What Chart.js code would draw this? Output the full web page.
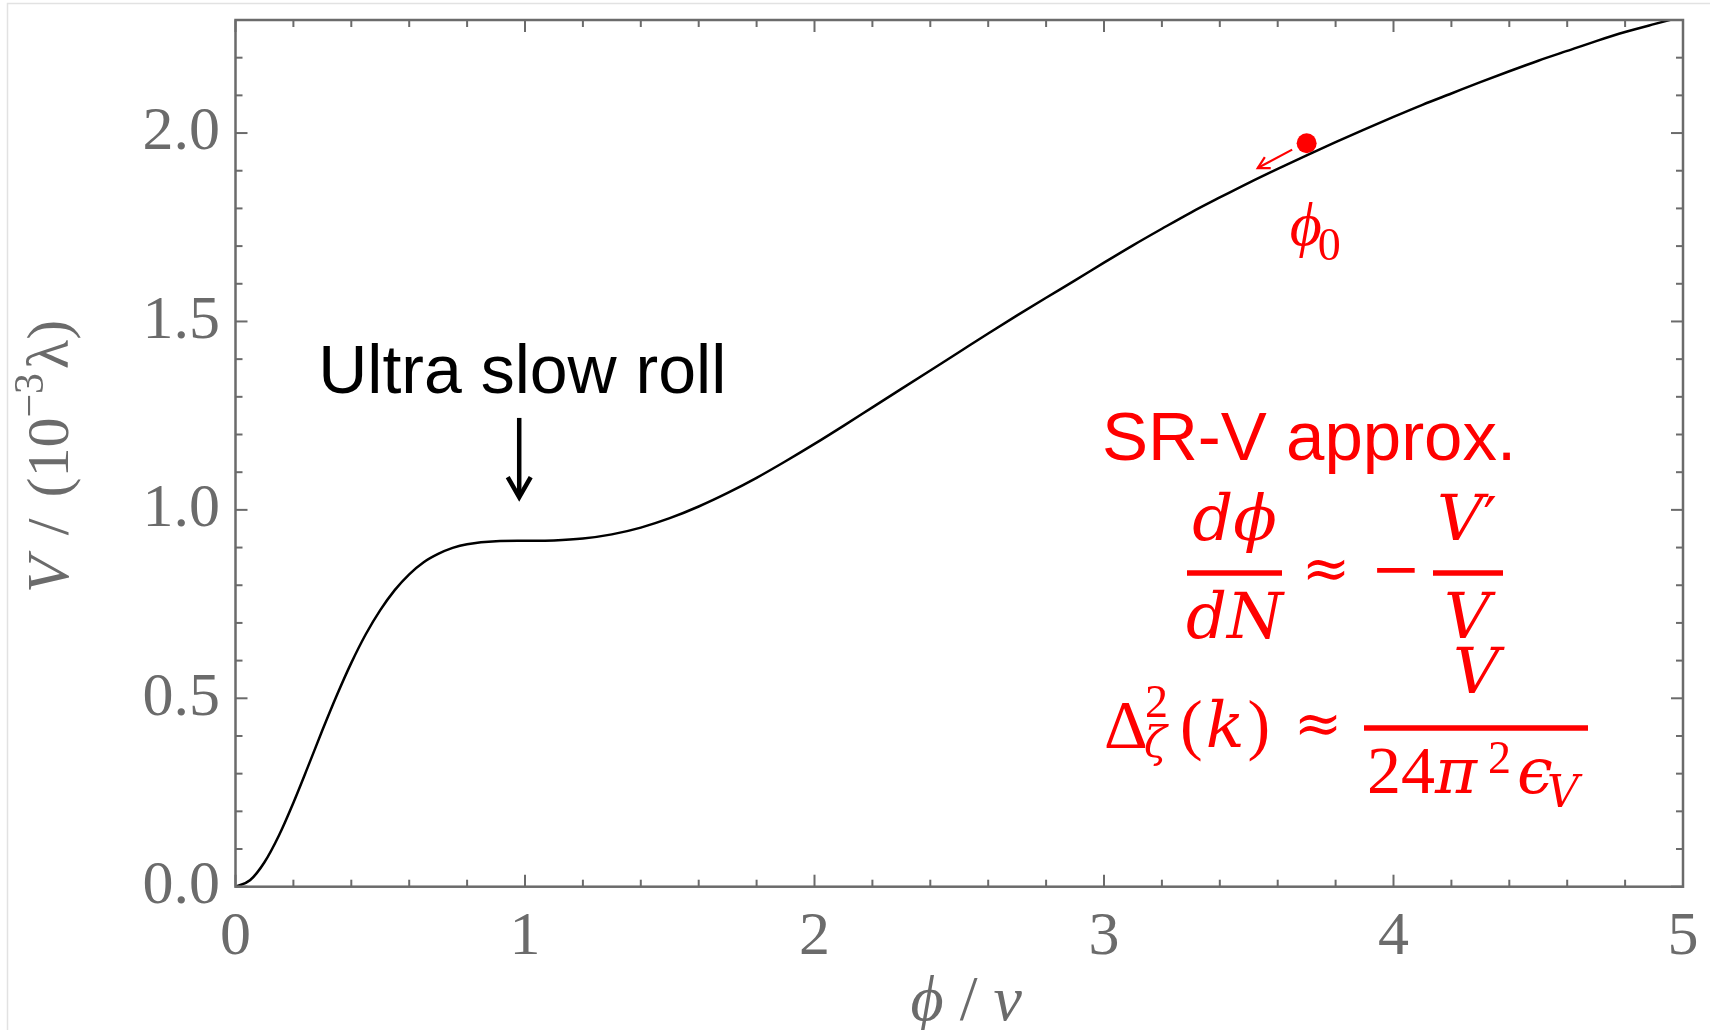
<!DOCTYPE html>
<html>
<head>
<meta charset="utf-8">
<title>Inflaton potential</title>
<script src="https://cdn.jsdelivr.net/npm/chart.js@4.4.1/dist/chart.umd.min.js"></script>
<style>
    html, body { margin: 0; padding: 0; background: #ffffff; }
    #wrap { width: 1710px; height: 1030px; position: relative; overflow: hidden; }
</style>
</head>
<body>
<div id="wrap"><canvas id="potentialChart" width="1710" height="1030"></canvas></div>
<script>
// Potential V(phi) in units of 1e-3 lambda, sampled along phi / v
const phiValues = [
    0.0, 0.05, 0.1, 0.15, 0.2, 0.25, 0.3, 0.35, 0.4, 0.45,
    0.5, 0.55, 0.6, 0.65, 0.7, 0.75, 0.8, 0.9,
    1.0, 1.1, 1.2, 1.3, 1.4, 1.5, 1.6, 1.7, 1.8, 1.9,
    2.0, 2.1, 2.2, 2.3, 2.4, 2.5, 2.6, 2.7, 2.8, 2.9,
    3.0, 3.1, 3.2, 3.3, 3.4, 3.5, 3.6, 3.7, 3.8, 3.9,
    4.0, 4.1, 4.2, 4.3, 4.4, 4.5, 4.6, 4.7, 4.8, 4.9, 5.0
];
const potentialValues = [
    0.000, 0.017, 0.065, 0.136, 0.223, 0.318, 0.415, 0.508, 0.594, 0.670,
    0.734, 0.787, 0.829, 0.861, 0.883, 0.899, 0.909, 0.917,
    0.918, 0.919, 0.924, 0.935, 0.953, 0.978, 1.009, 1.045, 1.085, 1.129,
    1.175, 1.223, 1.272, 1.321, 1.370, 1.419, 1.468, 1.516, 1.563, 1.609,
    1.656, 1.702, 1.746, 1.789, 1.829, 1.868, 1.905, 1.941, 1.976, 2.010,
    2.043, 2.075, 2.105, 2.135, 2.164, 2.192, 2.218, 2.244, 2.268, 2.289, 2.309
];

// starting point phi_0 of the field
const startPhi = [3.70];
const startV = [1.973];

// axis ticks
const xTickValues = [0, 1, 2, 3, 4, 5];
const xTickLabels = ['0', '1', '2', '3', '4', '5'];
const yTickValues = [0, 0.5, 1.0, 1.5, 2.0];
const yTickLabels = ['0.0', '0.5', '1.0', '1.5', '2.0'];

const AXIS_GREY = '#6b6b6b';
const RED = '#ff0000';
const SERIF = '"Liberation Serif", "Times New Roman", serif';
const MATH = '"DejaVu Serif", serif';
const SANS = '"Liberation Sans", Arial, sans-serif';

// arrows given in data units (phi, V)
const plateauArrow = { phi: 0.98, top: 1.244, tip: 1.031 };
const rollArrow = { from: [3.650, 1.956], to: [3.531, 1.907] };

// draw a row of differently styled text pieces
function drawRuns(ctx, runs, x, y, align) {
    let total = 0;
    runs.forEach(r => {
        ctx.font = r.f;
        r.w = ctx.measureText(r.t).width + (r.gap || 0);
        total += r.w;
    });
    let cx = align === 'center' ? x - total / 2 : x;
    ctx.textAlign = 'left';
    runs.forEach(r => {
        ctx.font = r.f;
        ctx.fillText(r.t, cx, y + (r.dy || 0));
        cx += r.w;
    });
}

function bar(ctx, x1, x2, y) {
    ctx.fillRect(x1, y - 2.75, x2 - x1, 5.5);
}

function line(ctx, x1, y1, x2, y2) {
    ctx.beginPath();
    ctx.moveTo(x1, y1);
    ctx.lineTo(x2, y2);
    ctx.stroke();
}

// keep the plot box fixed: no extra room for the end labels
function noLabelPadding(scale) {
    scale.paddingTop = 0;
    scale.paddingBottom = 0;
    scale.paddingLeft = 0;
    scale.paddingRight = 0;
}

const framePlugin = {
    id: 'frame',
    beforeDraw(chart) {
        const ctx = chart.ctx;
        ctx.save();
        ctx.fillStyle = '#ffffff';
        ctx.fillRect(0, 0, chart.width, chart.height);
        ctx.strokeStyle = '#e2e2e2';
        ctx.lineWidth = 1.5;
        ctx.beginPath();
        ctx.moveTo(7.5, chart.height);
        ctx.lineTo(7.5, 3.5);
        ctx.lineTo(chart.width, 3.5);
        ctx.stroke();
        ctx.restore();
    },
    afterDatasetsDraw(chart) {
        const { ctx, chartArea: a, scales: { x, y } } = chart;
        ctx.save();
        ctx.strokeStyle = AXIS_GREY;
        ctx.lineWidth = 2;
        // ticks on all four sides, pointing inwards
        for (let i = 0; i <= 25; i++) {
            const len = i % 5 === 0 ? 12 : 7;
            const px = x.getPixelForValue(i * 0.2);
            line(ctx, px, a.bottom, px, a.bottom - len);
            line(ctx, px, a.top, px, a.top + len);
        }
        for (let i = 0; i <= 23; i++) {
            const len = i % 5 === 0 ? 12 : 7;
            const py = y.getPixelForValue(i * 0.1);
            line(ctx, a.left, py, a.left + len, py);
            line(ctx, a.right, py, a.right - len, py);
        }
        ctx.lineWidth = 2.5;
        ctx.strokeRect(a.left, a.top, a.right - a.left, a.bottom - a.top);
        ctx.restore();
    },
    afterDraw(chart) {
        const { ctx, chartArea: a, scales: { x, y } } = chart;
        ctx.save();
        ctx.textBaseline = 'alphabetic';

        // axis titles
        ctx.fillStyle = AXIS_GREY;
        drawRuns(ctx, [
            { t: 'ϕ', f: 'italic 64px ' + SERIF },
            { t: ' / ', f: '64px ' + SERIF },
            { t: 'v', f: 'italic 64px ' + SERIF }
        ], (a.left + a.right) / 2 + 7, 1020, 'center');

        ctx.save();
        ctx.translate(68, (a.top + a.bottom) / 2 + 3);
        ctx.rotate(-Math.PI / 2);
        drawRuns(ctx, [
            { t: 'V', f: 'italic 60px ' + SERIF, gap: 6 },
            { t: ' / ', f: '60px ' + SERIF, gap: 6 },
            { t: '(10', f: '60px ' + SERIF },
            { t: '−3', f: '42px ' + SERIF, dy: -25, gap: 4 },
            { t: 'λ)', f: '60px ' + SERIF }
        ], 0, 0, 'center');
        ctx.restore();

        // ultra slow roll label and arrow
        const ax = x.getPixelForValue(plateauArrow.phi);
        const aTop = y.getPixelForValue(plateauArrow.top);
        const aTip = y.getPixelForValue(plateauArrow.tip);
        ctx.fillStyle = '#000000';
        ctx.strokeStyle = '#000000';
        ctx.font = '68px ' + SANS;
        ctx.textAlign = 'center';
        ctx.fillText('Ultra slow roll', ax + 3, aTop - 25);
        ctx.lineWidth = 4.5;
        ctx.lineCap = 'butt';
        line(ctx, ax, aTop, ax, aTip - 3);
        ctx.lineJoin = 'miter';
        ctx.beginPath();
        ctx.moveTo(ax - 11.5, aTip - 21);
        ctx.lineTo(ax, aTip - 1);
        ctx.lineTo(ax + 11.5, aTip - 21);
        ctx.stroke();

        // direction of motion at phi_0
        const fx = x.getPixelForValue(rollArrow.from[0]);
        const fy = y.getPixelForValue(rollArrow.from[1]);
        const tx = x.getPixelForValue(rollArrow.to[0]);
        const ty = y.getPixelForValue(rollArrow.to[1]);
        const ang = Math.atan2(ty - fy, tx - fx);
        ctx.strokeStyle = RED;
        ctx.fillStyle = RED;
        ctx.lineWidth = 2.2;
        line(ctx, fx, fy, tx, ty);
        ctx.beginPath();
        ctx.moveTo(tx - 13 * Math.cos(ang - 0.5), ty - 13 * Math.sin(ang - 0.5));
        ctx.lineTo(tx, ty);
        ctx.lineTo(tx - 13 * Math.cos(ang + 0.5), ty - 13 * Math.sin(ang + 0.5));
        ctx.stroke();

        // phi_0 label under the starting point
        const px0 = x.getPixelForValue(startPhi[0]);
        const py0 = y.getPixelForValue(startV[0]);
        drawRuns(ctx, [
            { t: 'ϕ', f: 'italic 62px ' + SERIF, gap: -4 },
            { t: '0', f: '46px ' + SERIF, dy: 15 }
        ], px0 - 17, py0 + 102, 'left');

        // slow-roll approximation formulas
        ctx.font = '69px ' + SANS;
        ctx.textAlign = 'left';
        ctx.fillText('SR-V approx.', 1102, 460);

        const IT = s => 'italic ' + s + 'px ' + MATH;
        const UP = s => s + 'px ' + SERIF;

        drawRuns(ctx, [{ t: 'dϕ', f: IT(64) }], 1234.5, 540, 'center');
        bar(ctx, 1187, 1282, 573);
        drawRuns(ctx, [{ t: 'dN', f: IT(64) }], 1234.5, 638, 'center');

        ctx.textBaseline = 'middle';
        ctx.textAlign = 'center';
        ctx.font = '58px ' + MATH;
        ctx.fillText('≈', 1326, 573);
        ctx.font = '60px ' + MATH;
        ctx.fillText('−', 1396, 573);
        ctx.textBaseline = 'alphabetic';

        drawRuns(ctx, [{ t: 'V', f: IT(64) }, { t: '′', f: '60px ' + MATH }], 1437, 540, 'left');
        bar(ctx, 1433, 1503, 573);
        drawRuns(ctx, [{ t: 'V', f: IT(64) }], 1467, 638, 'center');

        drawRuns(ctx, [{ t: 'Δ', f: UP(68) }], 1104, 747, 'left');
        drawRuns(ctx, [{ t: '2', f: UP(46) }], 1145, 717, 'left');
        drawRuns(ctx, [{ t: 'ζ', f: IT(42) }], 1144, 757, 'left');
        drawRuns(ctx, [
            { t: '(', f: UP(68), gap: 3 },
            { t: 'k', f: IT(64), gap: 3 },
            { t: ')', f: UP(68) }
        ], 1180, 747, 'left');

        ctx.textBaseline = 'middle';
        ctx.textAlign = 'center';
        ctx.font = '58px ' + MATH;
        ctx.fillText('≈', 1318, 728);
        ctx.textBaseline = 'alphabetic';

        drawRuns(ctx, [{ t: 'V', f: IT(64) }], 1476, 693, 'center');
        bar(ctx, 1364, 1588, 728);
        drawRuns(ctx, [{ t: '24', f: UP(68) }, { t: 'π', f: IT(64) }], 1367, 793, 'left');
        drawRuns(ctx, [{ t: '2', f: UP(46) }], 1488, 773, 'left');
        drawRuns(ctx, [{ t: 'ϵ', f: IT(64) }], 1517, 793, 'left');
        drawRuns(ctx, [{ t: 'V', f: IT(44) }], 1547, 807, 'left');

        ctx.restore();
    }
};

function initChart() {
    const canvas = document.getElementById('potentialChart');
    if (!canvas) {
        return;
    }
    const ctx = canvas.getContext('2d');

    const curve = phiValues.map((p, i) => ({ x: p, y: potentialValues[i] }));
    const start = startPhi.map((p, i) => ({ x: p, y: startV[i] }));

    new Chart(ctx, {
        type: 'scatter',
        data: {
            datasets: [{
                label: 'V',
                data: curve,
                showLine: true,
                borderColor: '#000000',
                borderWidth: 2.5,
                pointRadius: 0,
                fill: false,
                cubicInterpolationMode: 'monotone'
            }, {
                label: 'phi0',
                data: start,
                showLine: false,
                pointRadius: 10,
                pointBackgroundColor: RED,
                pointBorderWidth: 0
            }]
        },
        options: {
            responsive: false,
            devicePixelRatio: 1,
            animation: false,
            layout: { padding: { left: 0, right: 27, top: 20, bottom: 0 } },
            plugins: {
                legend: { display: false },
                tooltip: { enabled: false }
            },
            scales: {
                x: {
                    type: 'linear',
                    min: 0,
                    max: 5,
                    grid: { display: false, drawTicks: false },
                    border: { display: false },
                    afterFit: scale => {
                        scale.height = 143.3;
                        noLabelPadding(scale);
                    },
                    afterBuildTicks: scale => {
                        scale.ticks = xTickValues.map(v => ({ value: v }));
                    },
                    ticks: {
                        autoSkip: false,
                        maxRotation: 0,
                        padding: 20,
                        color: AXIS_GREY,
                        font: { family: SERIF, size: 62, lineHeight: 1 },
                        callback: (value, index) => xTickLabels[index]
                    }
                },
                y: {
                    type: 'linear',
                    min: 0,
                    max: 2.3,
                    grid: { display: false, drawTicks: false },
                    border: { display: false },
                    afterFit: scale => {
                        scale.width = 235.5;
                        noLabelPadding(scale);
                    },
                    afterBuildTicks: scale => {
                        scale.ticks = yTickValues.map(v => ({ value: v }));
                    },
                    ticks: {
                        autoSkip: false,
                        padding: 15.5,
                        color: AXIS_GREY,
                        font: { family: SERIF, size: 62, lineHeight: 1 },
                        callback: (value, index) => yTickLabels[index]
                    }
                }
            }
        },
        plugins: [framePlugin]
    });
}

window.addEventListener('load', () => {
    initChart();
});
</script>
</body>
</html>
